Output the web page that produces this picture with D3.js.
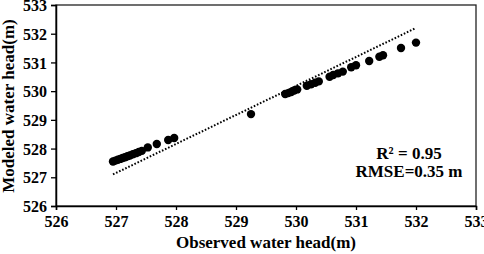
<!DOCTYPE html>
<html><head><meta charset="utf-8">
<script src="https://cdn.jsdelivr.net/npm/d3@7"></script>
<style>body{margin:0;background:#fff}svg{display:block}svg text{font-family:"Liberation Serif","Times New Roman",serif !important;font-weight:bold !important;fill:#000}</style>
</head><body><svg id="c" width="484" height="254"></svg>
<script>
const observed = [526.95,526.99,527.03,527.07,527.11,527.15,527.19,527.23,527.28,527.33,527.38,527.43,527.53,527.68,527.87,527.97,529.25,529.82,529.87,529.92,529.97,530.02,530.18,530.25,530.32,530.38,530.56,530.62,530.70,530.78,530.92,531.00,531.22,531.39,531.45,531.75,532.00];
const modeled  = [527.55,527.58,527.61,527.64,527.67,527.70,527.73,527.76,527.80,527.84,527.88,527.92,528.04,528.16,528.30,528.37,529.20,529.90,529.93,529.97,530.02,530.06,530.19,530.24,530.29,530.34,530.50,530.56,530.62,530.68,530.83,530.90,531.05,531.20,531.25,531.50,531.69];
const fitX = [526.95, 532.0];
const fitY = [527.1, 532.2];
const ticks = [526,527,528,529,530,531,532,533];
const stats = ["R\u00B2 = 0.95", "RMSE=0.35 m"];
const xTitle = "Observed water head(m)";
const yTitle = "Modeled water head(m)";

const svg = d3.select("#c");
const L=56, R=476, T=5, B=206;
const x = d3.scaleLinear().domain([526,533]).range([L,R]);
const y = d3.scaleLinear().domain([526,533]).range([B,T]);

svg.append("rect").attr("x",L).attr("y",T).attr("width",R-L).attr("height",B-T)
  .attr("fill","none").attr("stroke","#222").attr("stroke-width",1.3);

const xa = svg.append("g").attr("transform",`translate(0,${B})`)
  .call(d3.axisBottom(x).tickValues(ticks).tickFormat(d3.format("d")).tickSizeOuter(0).tickSize(4).tickPadding(6));
const ya = svg.append("g").attr("transform",`translate(${L},0)`)
  .call(d3.axisLeft(y).tickValues(ticks).tickFormat(d3.format("d")).tickSizeOuter(0).tickSize(5).tickPadding(4));
[xa,ya].forEach(a=>{
  a.attr("font-family","Liberation Serif").attr("font-size",16).attr("font-weight","bold");
  a.select(".domain").attr("stroke","#000").attr("stroke-width",1.5);
  a.selectAll(".tick line").attr("stroke","#000").attr("stroke-width",1.3);
  a.selectAll(".tick text").style("font-size","16px").style("font-family","'Liberation Serif', serif").style("font-weight","bold").attr("fill","#000");
});
ya.selectAll(".tick text").attr("dy","0.35em");

svg.append("line").attr("x1",x(fitX[0])).attr("y1",y(fitY[0])).attr("x2",x(fitX[1])).attr("y2",y(fitY[1]))
  .attr("stroke","#000").attr("stroke-width",2).attr("stroke-dasharray","1.6,1.8");

svg.append("g").selectAll("circle").data(observed).join("circle")
  .attr("cx",(d)=>x(d)).attr("cy",(d,i)=>y(modeled[i])).attr("r",4.2).attr("fill","#000");

svg.append("text").attr("x",409).attr("y",159).attr("text-anchor","middle").attr("font-size",17).text(stats[0]);
svg.append("text").attr("x",409).attr("y",177).attr("text-anchor","middle").attr("font-size",17).text(stats[1]);

svg.append("text").attr("x",266).attr("y",248).attr("text-anchor","middle").attr("font-size",17).text(xTitle);
svg.append("text").attr("transform","translate(14,106) rotate(-90)").attr("text-anchor","middle").attr("font-size",17).text(yTitle);
</script></body></html>
